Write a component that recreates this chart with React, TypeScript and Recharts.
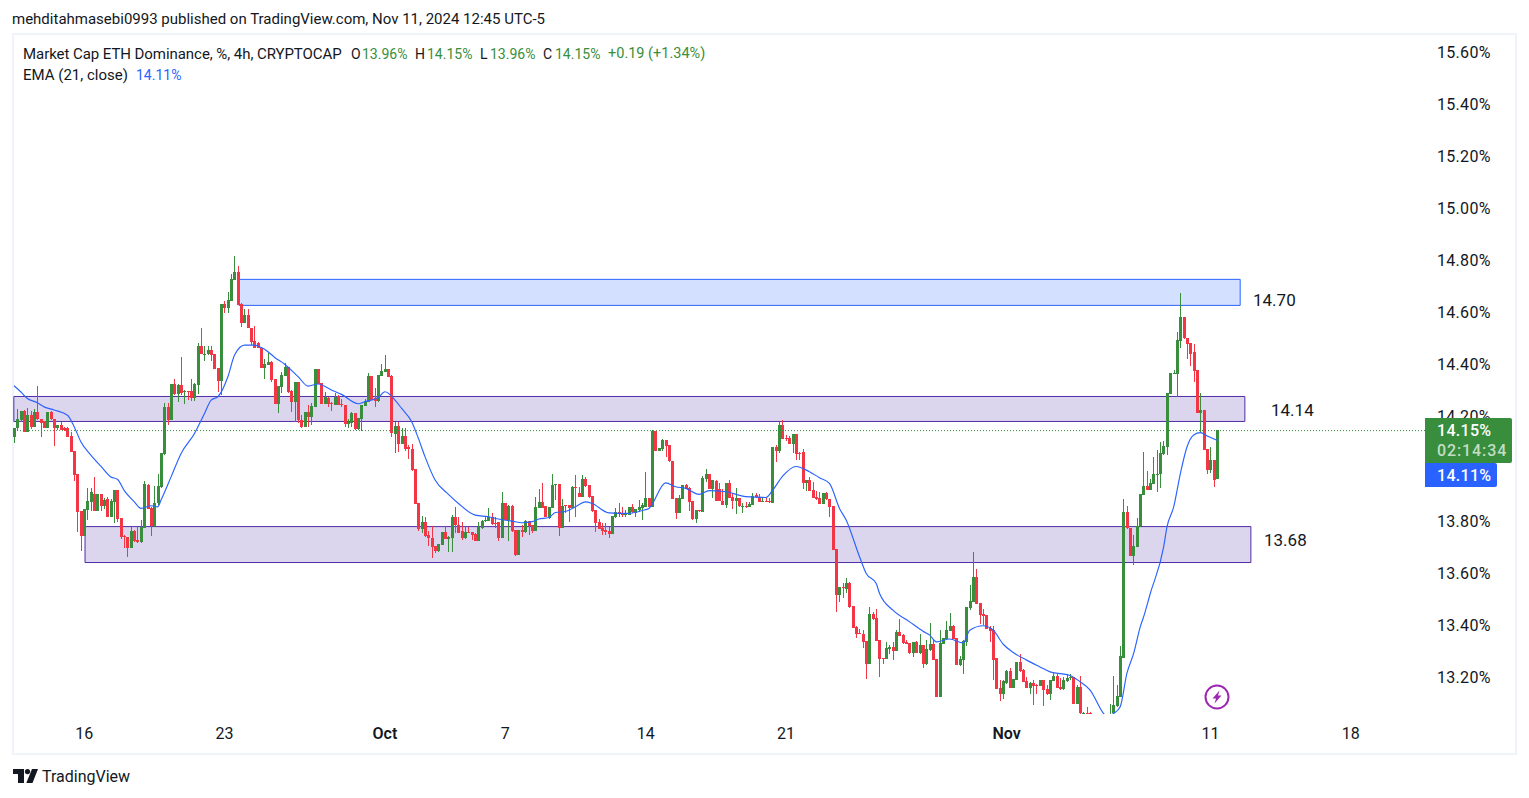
import { Bar, ComposedChart, Line, ReferenceArea, ReferenceLine, XAxis, YAxis } from "recharts";

// 4h candles, Sep 13 to Nov 11 2024, values in percent
const opens = [
  14.123,14.155,14.186,14.222,14.142,14.206,14.160,14.218,14.190,14.183,
  14.158,14.218,14.190,14.156,14.167,14.155,14.156,14.126,14.068,13.980,
  13.837,13.741,13.841,13.873,13.903,13.839,13.903,13.858,13.885,13.816,
  13.873,13.918,13.811,13.741,13.738,13.697,13.761,13.726,13.720,13.773,
  13.936,13.850,13.780,13.867,13.931,14.057,14.237,14.187,14.326,14.286,
  14.323,14.296,14.299,14.299,14.274,14.323,14.472,14.441,14.440,14.456,
  14.441,14.387,14.337,14.633,14.618,14.646,14.725,14.756,14.632,14.561,
  14.591,14.543,14.490,14.482,14.465,14.387,14.400,14.410,14.345,14.250,
  14.314,14.358,14.391,14.299,14.256,14.333,14.186,14.160,14.218,14.199,
  14.238,14.383,14.329,14.250,14.274,14.253,14.245,14.281,14.249,14.245,
  14.172,14.176,14.214,14.153,14.191,14.242,14.258,14.356,14.272,14.260,
  14.356,14.373,14.382,14.356,14.135,14.164,14.096,14.126,14.082,14.078,
  13.999,13.868,13.770,13.795,13.744,13.736,13.703,13.684,13.707,13.758,
  13.730,13.735,13.814,13.786,13.761,13.734,13.757,13.757,13.748,13.722,
  13.773,13.798,13.799,13.816,13.791,13.795,13.734,13.868,13.803,13.858,
  13.764,13.668,13.764,13.757,13.798,13.784,13.761,13.850,13.871,13.858,
  13.812,13.850,13.936,13.941,13.773,13.861,13.861,13.850,13.931,13.907,
  13.893,13.959,13.937,13.894,13.841,13.795,13.772,13.764,13.761,13.750,
  13.814,13.836,13.831,13.822,13.823,13.852,13.832,13.841,13.850,13.854,
  13.887,13.854,14.145,14.069,14.076,14.110,14.090,14.030,13.887,13.831,
  13.885,13.937,13.926,13.876,13.807,13.841,13.835,13.961,13.980,13.921,
  13.954,13.922,13.878,13.861,13.945,13.891,13.875,13.886,13.857,13.858,
  13.854,13.862,13.899,13.891,13.873,13.878,13.877,13.870,14.085,14.068,
  14.168,14.118,14.118,14.095,14.133,14.060,14.064,13.946,13.957,13.918,
  13.890,13.886,13.864,13.907,13.884,13.857,13.691,13.515,13.545,13.538,
  13.561,13.472,13.392,13.369,13.365,13.338,13.249,13.442,13.426,13.342,
  13.273,13.269,13.307,13.315,13.299,13.372,13.361,13.334,13.330,13.292,
  13.334,13.292,13.323,13.249,13.303,13.326,13.269,13.123,13.326,13.346,
  13.376,13.396,13.349,13.246,13.265,13.334,13.465,13.488,13.584,13.484,
  13.442,13.438,13.388,13.380,13.273,13.156,13.134,13.176,13.223,13.157,
  13.188,13.257,13.226,13.184,13.157,13.176,13.169,13.165,13.188,13.153,
  13.134,13.184,13.203,13.161,13.153,13.184,13.196,13.200,13.096,13.161,
  13.055,13.063,13.063,13.05,13.04,13.03,13.02,13.03,13.04,13.060,
  13.088,13.124,13.273,13.834,13.773,13.665,13.700,13.779,13.900,13.934,
  13.918,13.941,13.977,13.980,14.057,14.085,14.286,14.363,14.364,14.492,
  14.583,14.504,14.482,14.450,14.379,14.215,14.226,14.077,13.995,14.033,
  13.96,
];
const closes = [
  14.155,14.190,14.222,14.142,14.206,14.160,14.218,14.190,14.176,14.158,
  14.218,14.190,14.156,14.167,14.150,14.151,14.123,14.066,13.976,13.835,
  13.741,13.846,13.876,13.911,13.839,13.903,13.859,13.882,13.816,13.876,
  13.918,13.808,13.739,13.739,13.697,13.761,13.722,13.720,13.777,13.941,
  13.846,13.780,13.868,13.934,14.059,14.237,14.187,14.326,14.286,14.323,
  14.292,14.300,14.296,14.274,14.326,14.472,14.441,14.443,14.456,14.437,
  14.384,14.337,14.633,14.618,14.648,14.728,14.756,14.629,14.561,14.591,
  14.542,14.488,14.465,14.465,14.388,14.402,14.410,14.342,14.250,14.318,
  14.360,14.391,14.294,14.258,14.333,14.186,14.160,14.218,14.199,14.242,
  14.383,14.327,14.250,14.277,14.250,14.250,14.277,14.245,14.245,14.172,
  14.181,14.214,14.153,14.195,14.245,14.260,14.356,14.265,14.260,14.359,
  14.376,14.382,14.354,14.136,14.164,14.096,14.126,14.078,14.075,13.995,
  13.866,13.767,13.795,13.741,13.734,13.700,13.684,13.711,13.758,13.730,
  13.739,13.814,13.786,13.754,13.734,13.757,13.754,13.745,13.722,13.777,
  13.799,13.802,13.816,13.789,13.789,13.734,13.868,13.803,13.858,13.762,
  13.668,13.764,13.758,13.798,13.781,13.761,13.853,13.871,13.850,13.814,
  13.853,13.939,13.940,13.773,13.859,13.858,13.850,13.931,13.925,13.891,
  13.959,13.935,13.890,13.839,13.793,13.770,13.762,13.758,13.750,13.818,
  13.836,13.827,13.823,13.826,13.853,13.835,13.845,13.853,13.862,13.887,
  13.854,14.145,14.069,14.080,14.110,14.087,14.030,13.885,13.831,13.887,
  13.937,13.923,13.873,13.807,13.841,13.837,13.966,13.980,13.923,13.957,
  13.876,13.876,13.862,13.945,13.889,13.877,13.886,13.857,13.859,13.854,
  13.864,13.895,13.890,13.873,13.878,13.875,13.871,14.083,14.068,14.168,
  14.115,14.113,14.095,14.133,14.057,14.058,13.946,13.957,13.916,13.889,
  13.885,13.864,13.907,13.884,13.853,13.688,13.515,13.545,13.542,13.561,
  13.469,13.388,13.365,13.365,13.334,13.249,13.442,13.422,13.338,13.269,
  13.269,13.311,13.315,13.299,13.372,13.357,13.330,13.326,13.292,13.334,
  13.292,13.323,13.249,13.307,13.326,13.265,13.123,13.330,13.349,13.380,
  13.396,13.346,13.246,13.269,13.338,13.469,13.492,13.584,13.480,13.438,
  13.434,13.384,13.376,13.265,13.153,13.134,13.184,13.223,13.157,13.192,
  13.257,13.223,13.180,13.157,13.176,13.165,13.165,13.188,13.150,13.134,
  13.188,13.203,13.157,13.153,13.188,13.196,13.200,13.096,13.161,13.060,
  13.063,13.055,13.055,13.04,13.03,13.02,13.03,13.04,13.05,13.092,
  13.126,13.282,13.834,13.771,13.665,13.703,13.782,13.904,13.934,13.918,
  13.944,13.980,13.982,14.062,14.087,14.290,14.367,14.369,14.495,14.583,
  14.501,14.479,14.443,14.377,14.215,14.226,14.074,13.995,14.033,13.957,
  14.15,
];
const highs = [
  14.158,14.229,14.222,14.226,14.232,14.222,14.228,14.318,14.190,14.183,
  14.218,14.222,14.190,14.168,14.180,14.162,14.159,14.142,14.068,13.980,
  13.837,13.846,13.925,13.925,13.967,13.905,13.903,13.886,13.890,13.885,
  13.918,13.918,13.811,13.747,13.738,13.777,13.764,13.777,13.803,13.954,
  13.941,13.854,13.934,13.980,14.059,14.251,14.254,14.326,14.344,14.326,
  14.429,14.303,14.299,14.344,14.328,14.482,14.543,14.472,14.472,14.472,
  14.441,14.387,14.633,14.643,14.679,14.748,14.818,14.779,14.638,14.616,
  14.616,14.543,14.548,14.488,14.465,14.423,14.446,14.415,14.345,14.318,
  14.372,14.408,14.391,14.303,14.333,14.333,14.205,14.218,14.247,14.251,
  14.383,14.383,14.331,14.296,14.277,14.255,14.292,14.283,14.267,14.247,
  14.191,14.219,14.214,14.195,14.245,14.267,14.367,14.356,14.309,14.359,
  14.402,14.436,14.382,14.360,14.181,14.181,14.155,14.155,14.091,14.094,
  13.999,13.868,13.818,13.813,13.761,13.780,13.703,13.711,13.758,13.780,
  13.741,13.822,13.853,13.816,13.795,13.781,13.777,13.757,13.752,13.795,
  13.803,13.813,13.848,13.829,13.816,13.795,13.911,13.868,13.861,13.861,
  13.764,13.764,13.784,13.803,13.798,13.784,13.890,13.922,13.944,13.858,
  13.854,13.980,13.941,13.941,13.884,13.861,13.861,13.935,13.975,13.931,
  13.976,13.969,13.937,13.894,13.841,13.809,13.793,13.790,13.777,13.818,
  13.849,13.867,13.854,13.841,13.854,13.864,13.845,13.880,13.867,13.987,
  13.887,14.149,14.145,14.080,14.113,14.110,14.090,14.030,13.887,13.899,
  13.937,13.941,13.931,13.876,13.841,13.841,13.972,13.998,13.980,13.957,
  13.957,13.944,13.921,13.945,13.957,13.907,13.925,13.886,13.870,13.873,
  13.873,13.909,13.908,13.905,13.886,13.887,13.887,14.083,14.091,14.181,
  14.187,14.130,14.126,14.133,14.133,14.064,14.076,13.957,13.967,13.949,
  13.913,13.911,13.907,13.912,13.884,13.857,13.691,13.545,13.562,13.580,
  13.567,13.472,13.396,13.383,13.380,13.338,13.469,13.450,13.461,13.342,
  13.273,13.334,13.323,13.334,13.380,13.422,13.365,13.342,13.330,13.334,
  13.338,13.367,13.323,13.342,13.406,13.342,13.269,13.380,13.349,13.415,
  13.446,13.399,13.349,13.280,13.342,13.469,13.553,13.680,13.615,13.484,
  13.463,13.438,13.398,13.396,13.273,13.188,13.188,13.226,13.234,13.192,
  13.257,13.290,13.230,13.200,13.180,13.188,13.173,13.188,13.188,13.169,
  13.188,13.214,13.211,13.196,13.201,13.211,13.211,13.200,13.169,13.203,
  13.065,13.083,13.064,13.05,13.05,13.04,13.04,13.05,13.098,13.203,
  13.169,13.319,13.884,13.857,13.773,13.745,13.811,13.904,14.064,13.991,
  13.959,14.046,14.072,14.103,14.108,14.290,14.369,14.379,14.525,14.674,
  14.583,14.504,14.482,14.479,14.379,14.290,14.226,14.077,14.082,14.033,
  14.15,
];
const lows = [
  14.100,14.146,14.181,14.141,14.141,14.153,14.160,14.187,14.123,14.156,
  14.155,14.187,14.089,14.151,14.149,14.146,14.122,14.064,13.954,13.757,
  13.685,13.741,13.805,13.839,13.839,13.839,13.839,13.844,13.814,13.814,
  13.793,13.795,13.729,13.694,13.662,13.695,13.720,13.716,13.716,13.772,
  13.844,13.741,13.777,13.861,13.928,14.055,14.168,14.187,14.283,14.256,
  14.282,14.249,14.264,14.262,14.260,14.287,14.441,14.415,14.437,14.415,
  14.382,14.295,14.283,14.600,14.600,14.646,14.725,14.629,14.546,14.559,
  14.540,14.474,14.464,14.464,14.387,14.345,14.399,14.335,14.249,14.215,
  14.292,14.355,14.292,14.218,14.180,14.177,14.156,14.159,14.162,14.168,
  14.238,14.326,14.249,14.249,14.238,14.222,14.245,14.244,14.238,14.162,
  14.156,14.159,14.151,14.151,14.146,14.241,14.256,14.263,14.238,14.258,
  14.356,14.373,14.352,14.121,14.062,14.066,14.095,14.069,14.037,13.993,
  13.864,13.761,13.754,13.739,13.703,13.657,13.675,13.682,13.706,13.729,
  13.680,13.680,13.752,13.752,13.726,13.732,13.754,13.726,13.721,13.721,
  13.770,13.796,13.799,13.786,13.771,13.721,13.734,13.802,13.723,13.759,
  13.665,13.668,13.739,13.754,13.745,13.752,13.761,13.848,13.848,13.813,
  13.807,13.850,13.880,13.743,13.773,13.829,13.796,13.848,13.816,13.890,
  13.890,13.931,13.889,13.836,13.758,13.767,13.744,13.745,13.734,13.749,
  13.812,13.816,13.816,13.816,13.822,13.831,13.816,13.835,13.803,13.854,
  13.853,13.854,14.068,14.068,14.068,14.046,14.027,13.884,13.808,13.831,
  13.884,13.921,13.839,13.805,13.793,13.836,13.834,13.950,13.922,13.886,
  13.875,13.875,13.861,13.848,13.886,13.844,13.827,13.855,13.829,13.850,
  13.854,13.861,13.889,13.872,13.872,13.872,13.870,13.870,14.026,14.062,
  14.114,14.107,14.094,14.059,14.033,14.033,13.924,13.916,13.914,13.886,
  13.882,13.864,13.863,13.882,13.814,13.688,13.449,13.488,13.503,13.521,
  13.467,13.388,13.349,13.365,13.311,13.192,13.249,13.421,13.337,13.200,
  13.249,13.269,13.288,13.265,13.299,13.357,13.328,13.326,13.288,13.276,
  13.292,13.290,13.234,13.246,13.299,13.265,13.123,13.123,13.326,13.346,
  13.376,13.346,13.246,13.244,13.211,13.319,13.457,13.488,13.479,13.403,
  13.399,13.383,13.334,13.188,13.153,13.109,13.114,13.173,13.156,13.156,
  13.188,13.221,13.180,13.156,13.134,13.092,13.134,13.165,13.088,13.130,
  13.111,13.183,13.156,13.150,13.152,13.182,13.188,13.096,13.095,13.05,
  13.05,13.05,13.04,13.03,13.02,13.01,13.01,13.02,13.03,13.05,
  13.086,13.124,13.273,13.770,13.665,13.630,13.782,13.777,13.900,13.917,
  13.918,13.940,13.912,13.925,14.053,14.053,14.286,14.363,14.277,14.463,
  14.500,14.423,14.395,14.335,14.215,14.136,14.074,13.980,13.985,13.931,
  13.96,
];

// EMA 21, read at these candle positions
const emaAt = [
  0,2,4,7,9,12,16,18,20,23,26,29,31,33,36,38,41,43,44,47,50,54,57,59,61,64,66,69,72,74,76,78,81,85,88,91,95,98,103,105,
  109,111,114,116,119,121,123,126,130,133,138,142,145,149,152,155,157,160,162,165,168,171,173,178,184,188,190,195,198,201,
  205,208,213,219,225,227,230,234,238,241,244,247,249,253,255,258,259,263,268,272,274,276,280,284,286,290,293,296,299,303,
  307,310,316,319,322,326,327,329,331,333,335,337,338,340,344,345,347,349,351,353,355,357,360,
];
const emaValues = [
  14.319,14.296,14.270,14.254,14.238,14.226,14.206,14.162,14.104,14.053,14.010,13.969,13.959,13.916,13.873,13.848,13.858,13.854,13.880,13.969,14.059,14.136,14.213,14.264,14.277,14.354,14.437,14.475,14.475,14.466,14.450,14.428,14.402,14.354,14.318,14.326,14.303,14.286,14.250,14.258,
  14.274,14.296,14.264,14.232,14.181,14.117,14.046,13.957,13.902,13.867,13.822,13.816,13.807,13.799,13.793,13.797,13.807,13.813,13.832,13.836,13.854,13.873,13.867,13.831,13.829,13.840,13.848,13.946,13.931,13.925,
  13.902,13.916,13.912,13.893,13.890,13.918,13.972,14.009,13.989,13.966,13.944,13.848,13.803,13.662,13.598,13.559,13.521,13.457,13.412,13.376,13.361,13.335,13.346,13.331,13.380,13.397,13.380,13.326,13.294,13.265,
  13.239,13.220,13.206,13.182,13.150,13.060,13.047,13.060,13.086,13.214,13.290,13.393,13.431,13.521,13.700,13.777,13.854,13.982,14.085,14.130,14.139,14.126,14.11,
];

// 14.00% sits fully behind the price tags in the reference, so it is left out
const priceTicks = [13.2, 13.4, 13.6, 13.8, 14.2, 14.4, 14.6, 14.8, 15, 15.2, 15.4, 15.6];
const timeTicks = [21, 63, 111, 147, 189, 231, 297, 358, 400];
const timeLabels = ["16", "23", "Oct", "7", "14", "21", "Nov", "11", "18"];

const UP = "#388E3C";
const DOWN = "#F23645";
const FONT = "Roboto, sans-serif";

const rows = opens.map((open, i) => {
  const at = emaAt.indexOf(i);
  return {
    i,
    open,
    close: closes[i],
    high: highs[i],
    low: lows[i],
    range: [lows[i], highs[i]],
    ema: at >= 0 ? emaValues[at] : null,
  };
});

function Candle(props: any) {
  const { x, y, width, height, payload } = props;
  const { open, close, high, low } = payload;
  const cx = Math.round(x + width / 2);
  const perUnit = high > low ? height / (high - low) : 0;
  const top = y + (high - Math.max(open, close)) * perUnit;
  const bottom = y + (high - Math.min(open, close)) * perUnit;
  const color = close >= open ? UP : DOWN;
  return (
    <g shapeRendering="crispEdges">
      <rect x={cx} y={y} width={1} height={Math.max(height, 1)} fill={color} />
      <rect x={cx - 1} y={top} width={3} height={Math.max(bottom - top, 1)} fill={color} />
    </g>
  );
}

function TimeTick({ x, y, payload }: any) {
  const label = timeLabels[timeTicks.indexOf(payload.value)];
  const bold = label === "Oct" || label === "Nov";
  return (
    <text x={x} y={y + 11} textAnchor="middle" dominantBaseline="central" fontSize={16} fontFamily={FONT} fontWeight={bold ? 600 : 400} fill="#131722">
      {label}
    </text>
  );
}

function Txt({ x, y, color = "#131722", size = 14, weight = 400, spacing = 0, children }: any) {
  return (
    <span style={{ position: "absolute", left: x, top: y, color, fontSize: size, fontWeight: weight, letterSpacing: spacing, lineHeight: "20px", fontFamily: FONT, whiteSpace: "nowrap" }}>
      {children}
    </span>
  );
}

export default function App() {
  return (
    <div style={{ position: "absolute", left: 0, top: 0, width: 1529, height: 798, background: "#fff", overflow: "hidden" }}>
      <div style={{ position: "absolute", left: 12, top: 33, width: 1501, height: 718, border: "2px solid #F0F3FA" }} />
      <div style={{ position: "absolute", left: 0, top: 0 }}>
        <ComposedChart width={1529} height={798} data={rows} margin={{ top: 36, right: 13, bottom: 44, left: 13 }}>
          <XAxis
            dataKey="i"
            type="number"
            domain={[-0.3, 422.2]}
            allowDataOverflow
            ticks={timeTicks}
            interval={0}
            tick={<TimeTick />}
            tickLine={false}
            axisLine={false}
            height={40}
          />
          <YAxis
            orientation="right"
            type="number"
            domain={[13.058, 15.663]}
            allowDataOverflow
            ticks={priceTicks}
            interval={0}
            width={91}
            tickSize={0}
            tickMargin={12}
            tickLine={false}
            axisLine={false}
            tickFormatter={(v: number) => `${v.toFixed(2)}%`}
            tick={{ fontSize: 16, fontFamily: FONT, fill: "#131722", textAnchor: "start", letterSpacing: 0.3 }}
          />
          <ReferenceArea x1={67.3} x2={366.9} y1={14.628} y2={14.728} fill="#2962FF" fillOpacity={0.2} stroke="#2962FF" strokeWidth={1} />
          <ReferenceArea x1={-0.05} x2={368.3} y1={14.182} y2={14.278} fill="#512DA8" fillOpacity={0.2} stroke="#512DA8" strokeWidth={1} />
          <ReferenceArea x1={21.25} x2={370.1} y1={13.64} y2={13.778} fill="#512DA8" fillOpacity={0.2} stroke="#512DA8" strokeWidth={1} />
          <ReferenceLine y={14.147} stroke={UP} strokeWidth={1} strokeDasharray="1 2" />
          <Bar dataKey="range" barSize={3} shape={<Candle />} isAnimationActive={false} />
          <Line dataKey="ema" type="monotone" stroke="#2962FF" strokeWidth={1.15} dot={false} connectNulls isAnimationActive={false} />
        </ComposedChart>
      </div>

      <Txt x={12} y={9} size={15}>mehditahmasebi0993 published on TradingView.com, Nov 11, 2024 12:45 UTC-5</Txt>
      <Txt x={23} y={44} size={15} spacing={-0.06}>Market Cap ETH Dominance, %, 4h, CRYPTOCAP</Txt>
      <Txt x={351} y={44}>O</Txt>
      <Txt x={362} y={44} color={UP}>13.96%</Txt>
      <Txt x={415} y={44}>H</Txt>
      <Txt x={427} y={44} color={UP}>14.15%</Txt>
      <Txt x={480} y={44}>L</Txt>
      <Txt x={490} y={44} color={UP}>13.96%</Txt>
      <Txt x={543} y={44}>C</Txt>
      <Txt x={555} y={44} color={UP}>14.15%</Txt>
      <Txt x={608} y={44} size={14.5} color={UP}>+0.19 (+1.34%)</Txt>
      <Txt x={23} y={65} size={15}>EMA (21, close)</Txt>
      <Txt x={136} y={65} color="#2962FF">14.11%</Txt>

      <Txt x={1253} y={290} size={17}>14.70</Txt>
      <Txt x={1271} y={400} size={17}>14.14</Txt>
      <Txt x={1264} y={530} size={17}>13.68</Txt>

      <div style={{ position: "absolute", left: 1425, top: 418, width: 87, height: 45, background: UP, borderRadius: "0 2px 2px 0" }} />
      <Txt x={1437} y={421} color="#fff" size={16} weight={500} spacing={0.3}>14.15%</Txt>
      <Txt x={1437} y={441} color="#C4DDC6" size={16} weight={500} spacing={0.9}>02:14:34</Txt>
      <div style={{ position: "absolute", left: 1425, top: 463, width: 72, height: 24, background: "#2962FF", borderRadius: "0 2px 2px 0" }} />
      <Txt x={1437} y={466} color="#fff" size={16} weight={500} spacing={0.3}>14.11%</Txt>

      <svg style={{ position: "absolute", left: 1204, top: 684 }} width={26} height={26} viewBox="0 0 26 26">
        <circle cx={13} cy={13} r={11.5} fill="#fff" stroke="#9C27B0" strokeWidth={2} />
        <path d="M15.5 6.5 L8.5 14.5 H12 L10.5 19.5 L17.5 11.5 H14 Z" fill="#9C27B0" />
      </svg>

      <svg style={{ position: "absolute", left: 13, top: 769 }} width={25} height={14} viewBox="0 0 25 14">
        <path d="M11 0H0v5h5v9h6V0z" fill="#131722" />
        <circle cx={14.5} cy={2.6} r={2.6} fill="#131722" />
        <path d="M19 0h6l-5.5 14h-6.2L19 0z" fill="#131722" />
      </svg>
      <Txt x={42} y={767} size={16}>TradingView</Txt>
    </div>
  );
}
